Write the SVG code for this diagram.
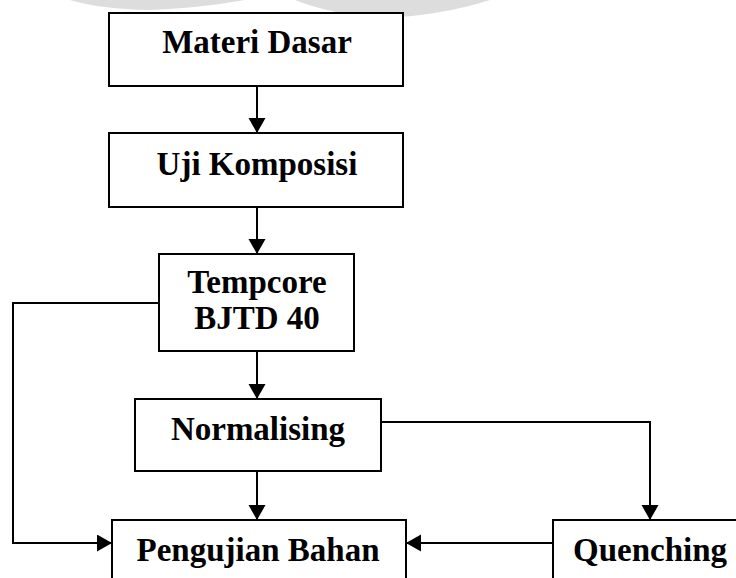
<svg xmlns="http://www.w3.org/2000/svg" width="736" height="578" viewBox="0 0 736 578">
<style>
.box{fill:#fff;stroke:#000;stroke-width:2}
.lbl{font-family:"Liberation Serif","Times New Roman",serif;font-weight:bold;font-size:33px;fill:#000;text-anchor:middle}
.con{fill:none;stroke:#000;stroke-width:2}
</style>
<defs>
<marker id="ah" markerUnits="userSpaceOnUse" markerWidth="16" markerHeight="18" refX="15" refY="8.5" orient="auto">
<path d="M0,0 L15,8.5 L0,17 Z" fill="#000"/>
</marker>
</defs>
<rect width="736" height="578" fill="#fff"/>
<g id="watermark" fill="#d4d4d4" opacity="0.8">
<path d="M70,0 L245,0 Q200,8 150,10 Q100,9 70,0 Z"/>
<path d="M295,0 L490,0 Q440,16 380,18 Q330,14 295,0 Z"/>
</g>
<g id="connectors">
<path class="con" d="M257,86 V133" marker-end="url(#ah)"/>
<path class="con" d="M257,207 V254" marker-end="url(#ah)"/>
<path class="con" d="M257,351 V399" marker-end="url(#ah)"/>
<path class="con" d="M257,471 V520" marker-end="url(#ah)"/>
<path class="con" d="M159,303 H13 V543 H112" marker-end="url(#ah)"/>
<path class="con" d="M381,422 H650 V520" marker-end="url(#ah)"/>
<path class="con" d="M553,543 H406" marker-end="url(#ah)"/>
</g>
<g id="materi-dasar">
<rect class="box" x="109" y="13" width="294" height="73"/>
<text class="lbl" x="257" y="53">Materi Dasar</text>
</g>
<g id="uji-komposisi">
<rect class="box" x="109" y="133" width="294" height="74"/>
<text class="lbl" x="257" y="175">Uji Komposisi</text>
</g>
<g id="tempcore">
<rect class="box" x="159" y="254" width="195" height="97"/>
<text class="lbl" x="257" y="293">Tempcore</text>
<text class="lbl" x="257" y="329">BJTD 40</text>
</g>
<g id="normalising">
<rect class="box" x="135" y="399" width="246" height="72"/>
<text class="lbl" x="258" y="440">Normalising</text>
</g>
<g id="pengujian-bahan">
<rect class="box" x="112" y="520" width="294" height="80"/>
<text class="lbl" x="258" y="561">Pengujian Bahan</text>
</g>
<g id="quenching">
<rect class="box" x="553" y="520" width="200" height="80"/>
<text class="lbl" x="650" y="561">Quenching</text>
</g>
</svg>
